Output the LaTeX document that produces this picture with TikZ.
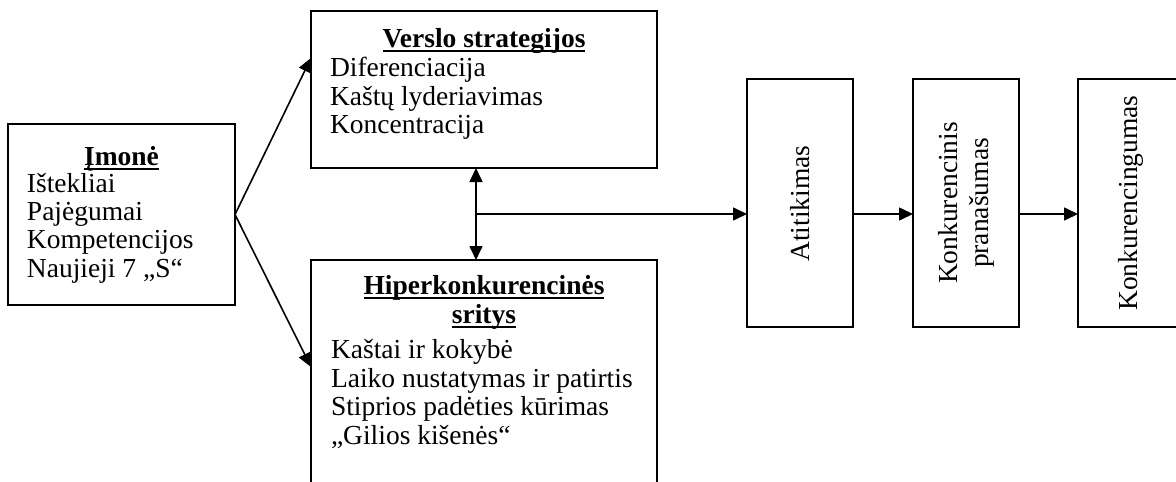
\documentclass[tikz,border=0pt]{standalone}
\usepackage{fontspec}
\setmainfont{Liberation Serif}
\usetikzlibrary{arrows.meta,calc}
\newcommand\myul[1]{\setbox0\hbox{#1}\rlap{\vrule height -3pt depth 5pt width \wd0}\box0}
\tikzset{
  box/.style={draw, line width=1.9pt, inner sep=0pt, outer sep=0pt},
  txt/.style={inner sep=0pt, outer sep=0pt, anchor=base west},
  ttl/.style={inner sep=0pt, outer sep=0pt, anchor=base, font=\fontsize{27.5}{28.5}\selectfont\bfseries},
  vtxt/.style={inner sep=0pt, rotate=90, align=center},
  arr/.style={line width=1.6pt, -{Triangle[length=14pt,width=13pt]}},
  darr/.style={line width=1.6pt, {Triangle[length=14pt,width=13pt]}-{Triangle[length=14pt,width=13pt]}}
}
\begin{document}
\begin{tikzpicture}[x=1pt,y=-1pt,font=\fontsize{27.5}{28.5}\selectfont]
\useasboundingbox (0,0) rectangle (1176,482);
\clip (0,0) rectangle (1176,482);
% boxes
\node[box, minimum width=227pt, minimum height=181pt] (imone) at (121.5,214.5) {};
\node[box, minimum width=346pt, minimum height=157pt] (verslo) at (484,89.5) {};
\node[box, minimum width=346pt, minimum height=240pt] (hiper) at (484,380) {};
\node[box, minimum width=106pt, minimum height=248pt] (atit) at (800,203) {};
\node[box, minimum width=106pt, minimum height=248pt] (prana) at (966,203) {};
\node[box, minimum width=106pt, minimum height=248pt] (konk) at (1131,203) {};
% Imone text
\node[ttl] (imt) at (121.5,165) {\myul{Įmonė}};
\node[txt] (im1) at (27,192) {Ištekliai};
\node[txt] (im2) at (27,220) {Pajėgumai};
\node[txt] (im3) at (27,248) {Kompetencijos};
\node[txt] (im4) at (27,277) {Naujieji 7 „S“};
% Verslo text
\node[ttl] (vst) at (484,47) {\myul{Verslo strategijos}};
\node[txt] (vs1) at (330,76) {Diferenciacija};
\node[txt] (vs2) at (330,105) {Kaštų lyderiavimas};
\node[txt] (vs3) at (330,133) {Koncentracija};
% Hiper text
\node[ttl] (hpt1) at (484,294) {\myul{Hiperkonkurencinės}};
\node[ttl] (hpt2) at (484,323) {\myul{sritys}};
\node[txt] (hp1) at (331,358) {Kaštai ir kokybė};
\node[txt] (hp2) at (331,387) {Laiko nustatymas ir patirtis};
\node[txt] (hp3) at (331,415) {Stiprios padėties kūrimas};
\node[txt] (hp4) at (331,444) {„Gilios kišenės“};
% vertical texts
\node[vtxt] (att) at (800,203.5) {Atitikimas};
\node[vtxt, font=\fontsize{27.5}{31}\selectfont] (prt) at (966,203) {Konkurencinis\\pranašumas};
\node[vtxt] (knt) at (1131,203) {Konkurencingumas};
% connectors
\draw[arr] (imone.east) -- ([yshift=31.5pt]verslo.west);
\draw[arr] (imone.east) -- ([yshift=13pt]hiper.west);
\draw[darr] ([xshift=-8pt]verslo.south) -- ([xshift=-8pt]hiper.north);
\coordinate (jn) at (476,214);
\draw[arr] (jn) -- (jn -| atit.west);
\draw[arr] (jn -| atit.east) -- (jn -| prana.west);
\draw[arr] (jn -| prana.east) -- (jn -| konk.west);
\end{tikzpicture}
\end{document}
